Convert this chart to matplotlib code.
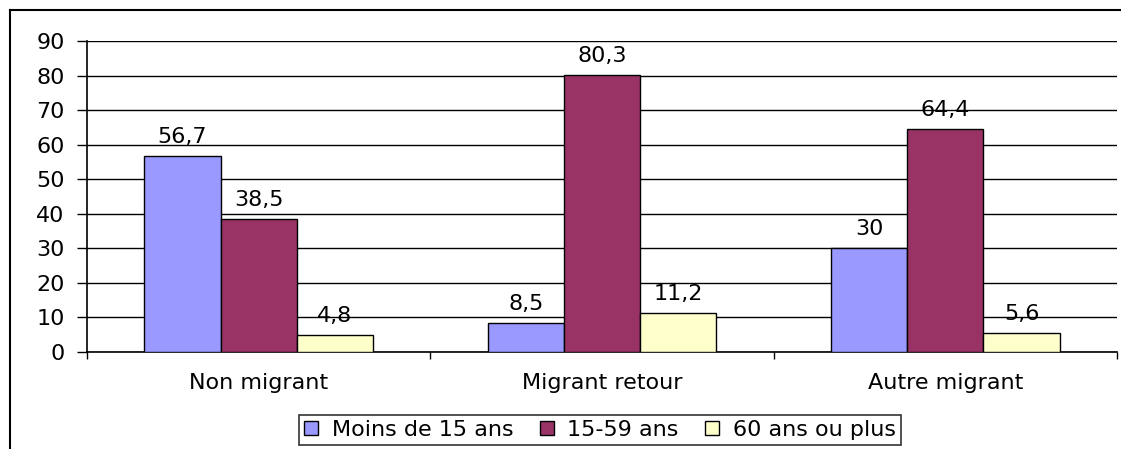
import matplotlib.pyplot as plt
from matplotlib.lines import Line2D
from matplotlib.patches import Patch
import numpy as np

plt.rcParams['font.family'] = ['DejaVu Sans']

categories = ["Non migrant", "Migrant retour", "Autre migrant"]
series = ["Moins de 15 ans", "15-59 ans", "60 ans ou plus"]
moins15 = [56.7, 8.5, 30]
age15_59 = [38.5, 80.3, 64.4]
plus60 = [4.8, 11.2, 5.6]
colors = ["#9999FF", "#993366", "#FFFFCC"]

values = [moins15, age15_59, plus60]
fs = 16

fig = plt.figure(figsize=(11.21, 4.49), dpi=100)
ax = fig.add_axes([87 / 1121, 1 - 352 / 449, (1117 - 87) / 1121, (352 - 41) / 449])

x = np.arange(len(categories))
w = 1 / 4.5
for i, (vals, col) in enumerate(zip(values, colors)):
    pos = x + (i - 1) * w
    ax.bar(pos, vals, width=w, color=col, edgecolor="black", linewidth=1, zorder=3)
    for p, v in zip(pos, vals):
        lab = f"{v:g}".replace(".", ",")
        ax.text(p, v + 2.6, lab, ha="center", va="bottom", fontsize=fs, zorder=4)

ax.set_xlim(-0.5, 2.5)
ax.set_ylim(0, 90)
ax.set_yticks(range(0, 91, 10))
ax.yaxis.grid(True, color="black", linewidth=1)
ax.set_axisbelow(True)
ax.tick_params(axis="y", direction="out", length=7, width=1, labelsize=fs, pad=9)
ax.set_xticks(x)
ax.set_xticklabels(categories, fontsize=fs)
ax.tick_params(axis="x", which="major", length=0, pad=15)
ax.set_xticks([-0.5, 0.5, 1.5, 2.5], minor=True)
ax.tick_params(axis="x", which="minor", direction="out", length=5, width=1)
for s in ["top", "right"]:
    ax.spines[s].set_visible(False)
ax.spines["left"].set_linewidth(1.2)
ax.spines["bottom"].set_linewidth(1.2)

handles = [Patch(facecolor=c, edgecolor="black", linewidth=1) for c in colors]
leg = fig.legend(handles, series, loc="center", bbox_to_anchor=(600 / 1121, 1 - 430 / 449),
                 ncol=3, fontsize=fs, frameon=True, fancybox=False, edgecolor="black",
                 handlelength=0.63, handleheight=0.63, handletextpad=0.6, columnspacing=1.2,
                 borderpad=0.22, borderaxespad=0)
leg.get_frame().set_linewidth(1.2)

# cadre du graphique
fig.add_artist(Line2D([9.5 / 1121, 9.5 / 1121], [0, 1 - 10 / 449], color="black", linewidth=1.5,
                      transform=fig.transFigure))
fig.add_artist(Line2D([9.5 / 1121, 1], [1 - 10 / 449, 1 - 10 / 449], color="black", linewidth=1.5,
                      transform=fig.transFigure))

fig.savefig("out.png", dpi=100)
